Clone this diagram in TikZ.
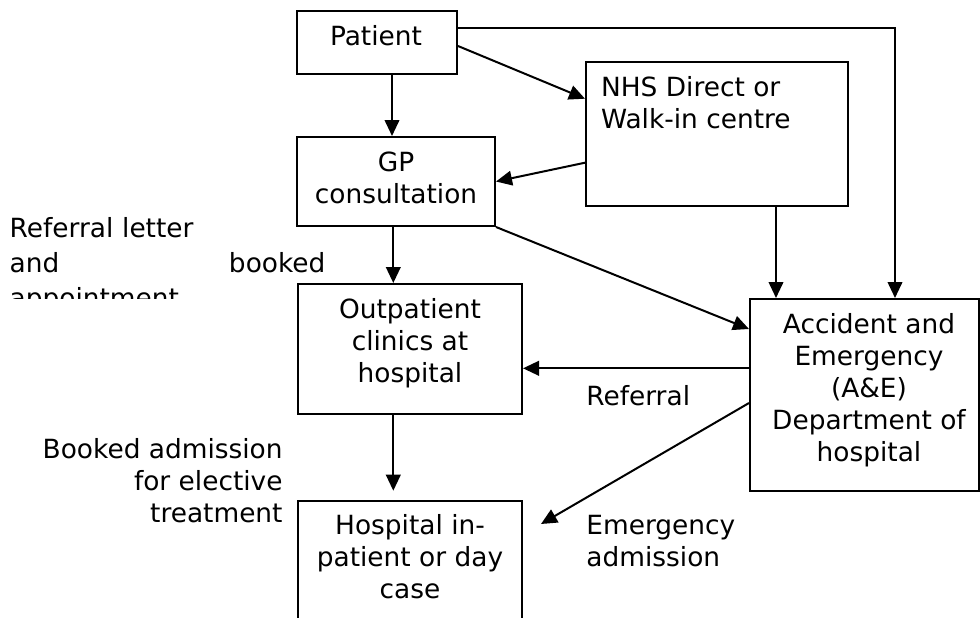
\documentclass[tikz,border=0pt]{standalone}
\usepackage{fontspec}
\setmainfont{DejaVu Sans}
\usepackage{tikz}
\usetikzlibrary{arrows.meta,positioning}
\tikzset{
  cp diagram/.style={x=0.5pt, y=-0.5pt,
    font=\fontsize{13.2pt}{16pt}\selectfont, text=black},
  cp box/.style={draw=black, line width=1pt, inner sep=0pt},
  cp text/.style={inner sep=0pt, align=center, anchor=base},
  cp label/.style={inner sep=0pt, align=left, anchor=base west},
  cp arrow/.style={-{Triangle[length=8pt,width=7.3pt]}, draw=black, line width=1pt}
}
\begin{document}
\begin{tikzpicture}[cp diagram]
\useasboundingbox (0,0) rectangle (980,617);
\node[cp box,minimum width=80pt,minimum height=31.5pt] (patient) at (377,42.5) {};
\node[cp box,minimum width=131pt,minimum height=72pt] (nhs) at (717,134) {};
\node[cp box,minimum width=99pt,minimum height=44.5pt] (gp) at (396,181.5) {};
\node[cp box,minimum width=112pt,minimum height=65pt] (opd) at (410,349) {};
\node[cp box,minimum width=114.5pt,minimum height=96pt] (ae) at (864.5,395) {};
\node[cp box,minimum width=112pt,minimum height=75pt] (inpt) at (410,576) {};
\node[cp text] (patient txt) at (376,45.7) {Patient};
\node[cp label] (nhs txt) at (600.7,128.5) {NHS Direct or\\Walk-in centre};
\node[cp text] (gp txt) at (396,203.8) {GP\\consultation};
\node[cp text] (opd txt) at (410,382.5) {Outpatient\\clinics at\\hospital};
\node[cp text] (ae txt) at (869,461.5) {Accident and\\Emergency\\(A\&E)\\Department of\\hospital};
\node[cp text] (inpt txt) at (410,598.3) {Hospital in-\\patient or day\\case};
\begin{scope}
  \clip (0,0) rectangle (340,298);
  \node[cp label,text width=157.85pt,font=\fontsize{13.2pt}{17.5pt}\selectfont]
    (letter lbl) at (9.3,237.3) {Referral letter\\and\hspace{\fill}booked\\appointment};
\end{scope}
\node[cp text,align=right,anchor=base east] (elective lbl) at (283,522)
  {Booked admission\\for elective\\treatment};
\node[cp label] (referral lbl) at (586,405) {Referral};
\node[cp label] (emergency lbl) at (586,566.5) {Emergency\\admission};
\coordinate (emergency tip) at (541,524);
\draw[cp arrow] ([xshift=7.5pt]patient.south) -- ([xshift=7.5pt]patient.south |- gp.north);
\draw[cp arrow] ([yshift=-1.75pt]patient.east) -- ([yshift=17.65pt]nhs.west);
\draw[cp arrow] ([yshift=7.25pt]patient.east) -| ([xshift=15.25pt]ae.north);
\draw[cp arrow] ([yshift=-14.35pt]nhs.west) -- (gp.east);
\draw[cp arrow] ([xshift=29.5pt]nhs.south) -- ([xshift=29.5pt]nhs.south |- ae.north);
\draw[cp arrow] (gp.south east) -- ([yshift=33pt]ae.west);
\draw[cp arrow] ([xshift=-1.35pt]gp.south) -- ([xshift=-1.35pt]gp.south |- opd.north);
\draw[cp arrow] ([yshift=13.35pt]ae.west) -- ([yshift=13.35pt]ae.west -| opd.east);
\draw[cp arrow,shorten >=4.65pt] ([xshift=-8.35pt]opd.south) -- ([xshift=-8.35pt]opd.south |- inpt.north);
\draw[cp arrow] ([yshift=-4pt]ae.west) -- (emergency tip);
\end{tikzpicture}
\end{document}
